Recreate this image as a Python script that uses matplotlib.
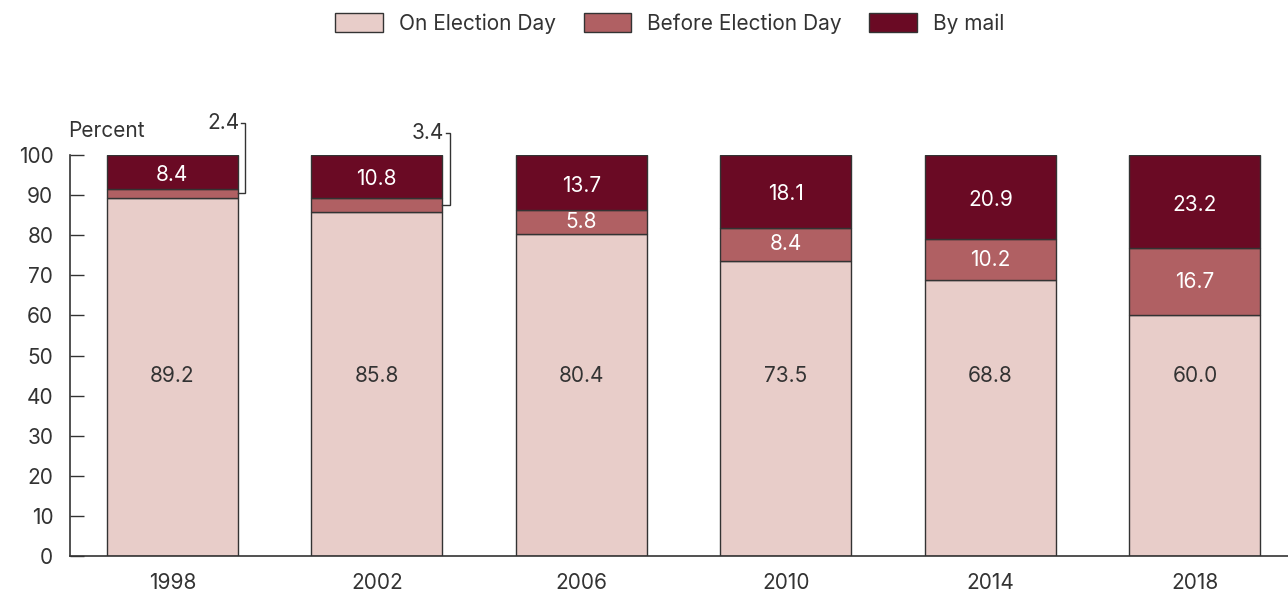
import matplotlib.pyplot as plt
import numpy as np
from matplotlib.patches import Patch

plt.rcParams['font.family'] = ['Inter', 'DejaVu Sans']

years = ["1998", "2002", "2006", "2010", "2014", "2018"]
on_day = [89.2, 85.8, 80.4, 73.5, 68.8, 60.0]
before_day = [2.4, 3.4, 5.8, 8.4, 10.2, 16.7]
by_mail = [8.4, 10.8, 13.7, 18.1, 20.9, 23.2]
series_names = ["On Election Day", "Before Election Day", "By mail"]
colors = ["#E8CDC9", "#B06063", "#6A0A24"]
yticks = [0, 10, 20, 30, 40, 50, 60, 70, 80, 90, 100]

fig = plt.figure(figsize=(12.88, 5.93), dpi=100)
ax = fig.add_axes([70/1288, 1-556/593, 1-70/1288, (556-155)/593])

x = np.arange(len(years))
w = 0.64
edge = "#333333"
ax.bar(x, on_day, w, color=colors[0], edgecolor=edge, linewidth=1)
ax.bar(x, before_day, w, bottom=on_day, color=colors[1], edgecolor=edge, linewidth=1)
bottom3 = np.array(on_day) + np.array(before_day)
ax.bar(x, by_mail, w, bottom=bottom3, color=colors[2], edgecolor=edge, linewidth=1)

fs = 15
tc = "#333333"
for i in range(len(years)):
    ax.text(x[i], 45, f"{on_day[i]:.1f}", ha="center", va="center", fontsize=fs, color=tc)
    if i >= 2:
        ax.text(x[i], on_day[i] + before_day[i]/2, f"{before_day[i]:.1f}", ha="center", va="center",
                fontsize=fs, color="white")
    ax.text(x[i], bottom3[i] + by_mail[i]/2 - 0.7, f"{by_mail[i]:.1f}", ha="center", va="center",
            fontsize=fs, color="white")

# bracket annotations for small segments
brackets = [(0, 107.9), (1, 105.5)]
for i, ytop in brackets:
    xr = x[i] + w/2
    xl = xr + 0.037
    ymid = on_day[i] + before_day[i]/2
    ax.plot([xr, xl, xl, xl - 0.02], [ymid, ymid, ytop, ytop], color=tc, lw=1,
            clip_on=False, solid_joinstyle="miter")
    ax.text(xl - 0.028, ytop, f"{before_day[i]:.1f}", ha="right", va="center", fontsize=fs,
            color=tc, clip_on=False)

ax.set_xlim(-0.5, 5.455)
ax.set_ylim(0, 100)
ax.set_yticks(yticks)
ax.set_yticklabels([str(t) for t in yticks], fontsize=fs, color=tc)
ax.set_xticks(x)
ax.set_xticklabels(years, fontsize=fs, color=tc)
ax.tick_params(axis="x", length=0, pad=12)
ax.tick_params(axis="y", direction="in", length=10, width=1, color=tc, pad=12)
for s in ["top", "right"]:
    ax.spines[s].set_visible(False)
for s in ["left", "bottom"]:
    ax.spines[s].set_color(tc)
    ax.spines[s].set_linewidth(1.2)

ax.text(-0.51, 106, "Percent", ha="left", va="center", fontsize=fs, color=tc, clip_on=False)

handles = [Patch(facecolor=c, edgecolor=edge, linewidth=1) for c in colors]
fig.legend(handles, series_names, loc="upper center", bbox_to_anchor=(670/1288, 1.01),
           ncol=3, frameon=False, fontsize=fs, handlelength=2.3, handleheight=1.06,
           columnspacing=1.3, handletextpad=0.77, labelcolor=tc)

fig.savefig("out.png", dpi=100)
